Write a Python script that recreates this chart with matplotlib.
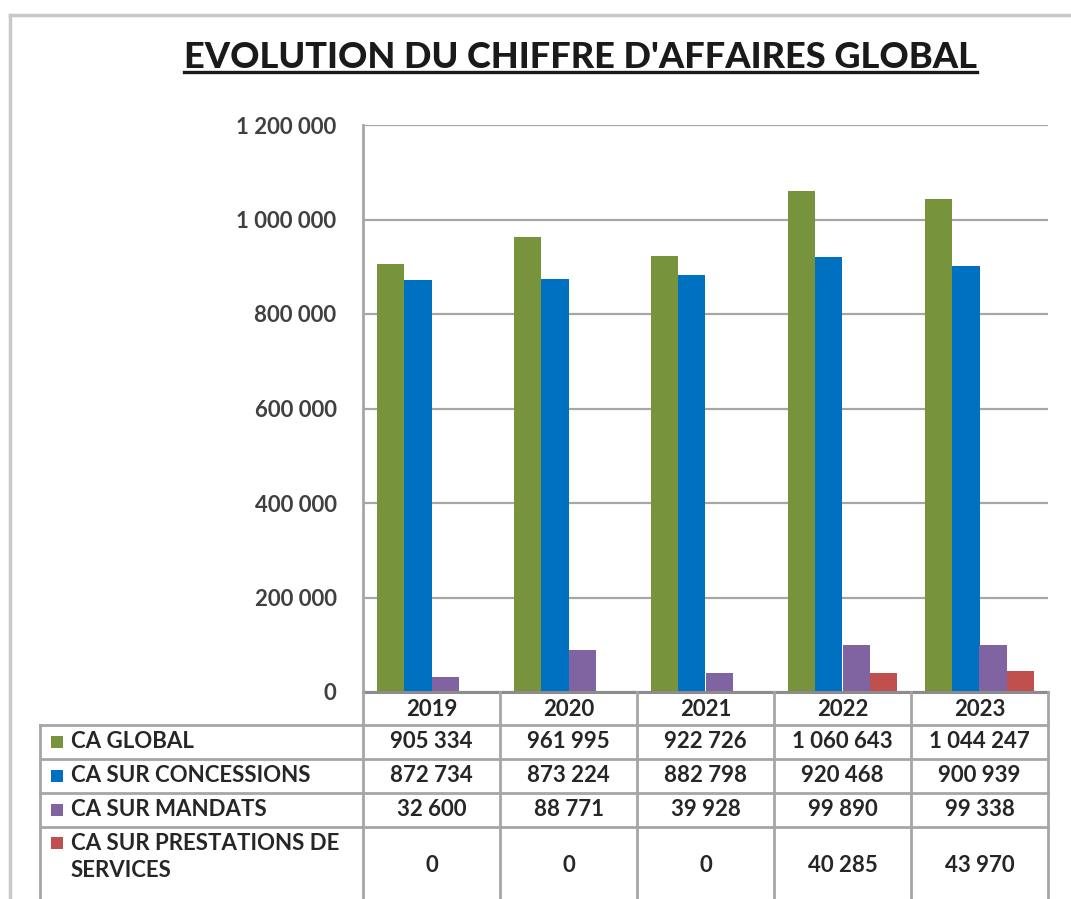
import matplotlib
matplotlib.use('Agg')
import matplotlib.pyplot as plt
import matplotlib.transforms as mtransforms
from matplotlib.lines import Line2D
from matplotlib.patches import Rectangle
import numpy as np

# ── Data ──────────────────────────────────────────────────────────────────────

years = ['2019', '2020', '2021', '2022', '2023']
series_names = ['CA GLOBAL', 'CA SUR CONCESSIONS', 'CA SUR MANDATS',
                'CA SUR PRESTATIONS DE\nSERVICES']
ca_global = [905334, 961995, 922726, 1060643, 1044247]
ca_concessions = [872734, 873224, 882798, 920468, 900939]
ca_mandats = [32600, 88771, 39928, 99890, 99338]
ca_prestations = [0, 0, 0, 40285, 43970]
y_ticks = [0, 200000, 400000, 600000, 800000, 1000000, 1200000]

series = [ca_global, ca_concessions, ca_mandats, ca_prestations]
colors = ['#77933C', '#0070C0', '#8064A2', '#C0504D']

FONT = ['Lato', 'DejaVu Sans']
TXT = '#262626'
GRID = '#A6A6A6'
FS = 16


def fmt(v):
    return f"{v:,}".replace(',', ' ')


# ── Figure ────────────────────────────────────────────────────────────────────

W, H = 1071, 899
fig = plt.figure(figsize=(W / 100, H / 100), dpi=100)
fig.patch.set_facecolor('white')


def fx(px):
    return px / W


def fy(py):
    return 1 - py / H


# outer chart frame (cropped on right / bottom)
fig.add_artist(Line2D([fx(10), fx(10)], [fy(15), 0], transform=fig.transFigure,
                      color='#C8C8C8', lw=2.5))
fig.add_artist(Line2D([fx(10), 1], [fy(15), fy(15)], transform=fig.transFigure,
                      color='#C8C8C8', lw=2.5))

ax = fig.add_axes([fx(363), fy(692), fx(1048) - fx(363), fy(125) - fy(692)])

x = np.arange(len(years))
bw = 0.2
offsets = (np.arange(len(series)) - 1.5) * bw
for vals, off, col in zip(series, offsets, colors):
    ax.bar(x + off, vals, width=bw, color=col, edgecolor='none', zorder=3)

ax.set_xlim(-0.5, len(years) - 0.5)
ax.set_ylim(0, 1200000)
ax.set_yticks(y_ticks)
ax.set_yticklabels([fmt(v) for v in y_ticks], family=FONT, fontsize=FS,
                   fontweight='bold', color='#404040')
ax.set_xticks([])
ax.tick_params(axis='y', length=0, pad=19)
ax.yaxis.grid(True, color=GRID, lw=1.6, zorder=0)
for s in ['top', 'right', 'bottom']:
    ax.spines[s].set_visible(False)
ax.spines['left'].set_color(GRID)
ax.spines['left'].set_linewidth(2)
ax.axhline(0, color='#8C8C8C', lw=2.2, zorder=4, clip_on=False)

# ── Data table ────────────────────────────────────────────────────────────────

blend = mtransforms.blended_transform_factory(ax.transData, fig.transFigure)
rows_px = [692, 725, 759, 793, 827]
bottom_px = H
label_left = 40

# vertical column lines
for b in np.arange(len(years) + 1) - 0.5:
    fig.add_artist(Line2D([b, b], [fy(692), fy(bottom_px)], transform=blend,
                          color=GRID, lw=2))
# label column left line
fig.add_artist(Line2D([fx(label_left), fx(label_left)], [fy(725), fy(bottom_px)],
                      transform=fig.transFigure, color=GRID, lw=2))
# horizontal row lines
for r in rows_px[1:]:
    fig.add_artist(Line2D([fx(label_left), fx(1048)], [fy(r), fy(r)],
                          transform=fig.transFigure, color=GRID, lw=2))

# header row
for i, yr in enumerate(years):
    fig.text(i, fy(709), yr, transform=blend, ha='center', va='center',
             family=FONT, fontsize=FS, fontweight='bold', color=TXT)

row_centers = [742, 776, 810, 866]
label_y = [742, 776, 810, 857]
square_y = [742, 776, 810, 843]
for name, vals, col, yc, ly, sy in zip(series_names, series, colors,
                                        row_centers, label_y, square_y):
    for i, v in enumerate(vals):
        fig.text(i, fy(yc), fmt(v), transform=blend, ha='center', va='center',
                 family=FONT, fontsize=FS, fontweight='bold', color=TXT)
    fig.add_artist(Rectangle((fx(51), fy(sy + 6)), fx(12), fy(0) - fy(12),
                             transform=fig.transFigure, facecolor=col,
                             edgecolor='none'))
    fig.text(fx(71), fy(ly), name, ha='left', va='center', family=FONT,
             fontsize=FS, fontweight='bold', color=TXT, linespacing=1.4)

# ── Title ─────────────────────────────────────────────────────────────────────

title = fig.text(fx(580), fy(57), "EVOLUTION DU CHIFFRE D'AFFAIRES GLOBAL",
                 ha='center', va='center', family=FONT, fontsize=26,
                 fontweight='black', color='#1A1A1A')
fig.canvas.draw()
bb = title.get_window_extent(fig.canvas.get_renderer())
fig.add_artist(Line2D([bb.x0 / W, bb.x1 / W], [fy(72), fy(72)],
                      transform=fig.transFigure, color='#1A1A1A', lw=2.4))

fig.savefig('out.png', dpi=100, facecolor='white')
